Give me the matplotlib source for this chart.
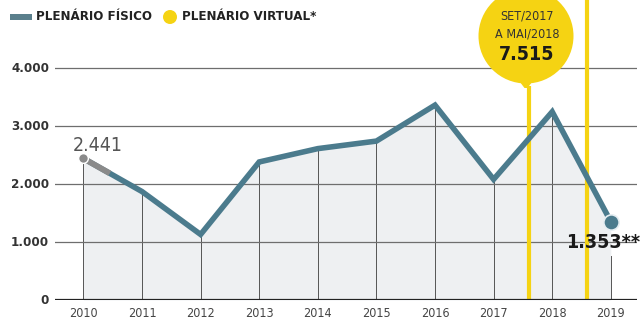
import matplotlib
matplotlib.use("Agg")
import matplotlib.pyplot as plt
from matplotlib.patches import Circle, Rectangle, Polygon
from matplotlib import font_manager as fm

years = [2010, 2011, 2012, 2013, 2014, 2015, 2016, 2017, 2018, 2019]
fisico = [2441, 1870, 1130, 2380, 2610, 2740, 3360, 2080, 3245, 1353]
yticks = [0, 1000, 2000, 3000, 4000]
ytick_labels = ["0", "1.000", "2.000", "3.000", "4.000"]
virtual_start = 2017.6   # SET/2017
virtual_end = 2018.6     # MAI/2018
virtual_total_label = "7.515"
first_label = "2.441"
last_label = "1.353**"

names = sorted({f.name for f in fm.fontManager.ttflist})
print(names)
cond = [f.fname for f in fm.fontManager.ttflist if "Condensed" in f.fname or "Narrow" in f.fname]
print(cond)

FAM = ["DejaVu Sans"]
ST = "condensed"

W, H = 641, 320
fig = plt.figure(figsize=(W / 100, H / 100), dpi=100)
ax = fig.add_axes([55 / W, 20 / H, (637 - 55) / W, 300 / H])
px_per_year = 58.6
x0 = 2010 - (83.4 - 55) / px_per_year
x1 = 2010 + (637 - 83.4) / px_per_year
ax.set_xlim(x0, x1)
ymax = 300 / 0.058
ax.set_ylim(0, ymax)
ax.axis("off")

TEAL = "#4b7b8d"
YELLOW = "#f5d313"
GRID = "#6e6e6e"

ax.fill_between(years, fisico, 0, color="#eef0f2", zorder=1, lw=0)

for i, (yr, v) in enumerate(zip(years, fisico)):
    top = v if i < len(years) - 1 else 760
    ax.plot([yr, yr], [0, top], color="#555555", lw=0.7, zorder=2)

for t in yticks[1:]:
    ax.plot([x0, x1], [t, t], color=GRID, lw=0.9, zorder=3)
ax.plot([x0, x1], [0, 0], color="#222222", lw=1.6, zorder=6)

for t, lab in zip(yticks, ytick_labels):
    fig.text(49 / W, 1 - (300 - t * 0.058) / H, lab, ha="right", va="center",
             fontsize=9.5, fontweight="bold", color="#333333",
             family=FAM, fontstretch=ST)
for yr in years:
    ax.text(yr, -230, str(yr), ha="center", va="center", fontsize=9,
            color="#444444", family=FAM, fontstretch=ST, clip_on=False)

ax.plot([virtual_start, virtual_start], [0, (300 - 86) / 0.058], color=YELLOW,
        lw=3, zorder=4, solid_capstyle="butt")
ax.plot([virtual_end, virtual_end], [0, ymax], color=YELLOW, lw=3, zorder=4,
        clip_on=False, solid_capstyle="butt")

ax.plot(years, fisico, color=TEAL, lw=4, zorder=5, solid_capstyle="round",
        solid_joinstyle="miter")
xs = years[0] + 0.45
ys = fisico[0] + (fisico[1] - fisico[0]) * 0.45
ax.plot([years[0], xs], [fisico[0], ys], color="#8a8a8a", lw=4.2, zorder=5.5,
        solid_capstyle="butt")
ax.plot([years[0]], [fisico[0]], "o", color="#8a8a8a", ms=7, zorder=6,
        markeredgecolor="white", markeredgewidth=1)
ax.plot([years[-1]], [fisico[-1]], "o", color=TEAL, ms=11, zorder=6,
        markeredgecolor="#e6eef2", markeredgewidth=1.2)

ax.text(years[0] + 0.25, 2670, first_label, ha="center", va="center",
        fontsize=14, color="#555555", zorder=7, family=FAM, fontstretch=ST)
ax.text(2018.87, 1000, last_label, ha="center", va="center",
        fontsize=14, fontweight="bold", color="#1a1a1a", zorder=7,
        family=FAM, fontstretch=ST)

fa = fig.add_axes([0, 0, 1, 1], zorder=10)
fa.set_xlim(0, W)
fa.set_ylim(H, 0)
fa.axis("off")
fa.patch.set_alpha(0)
cx, cy, r = 526, 36, 47.5
fa.add_patch(Circle((cx, cy), r, color=YELLOW, lw=0))
fa.add_patch(Polygon([[cx - 8, cy + r - 4], [cx + 8, cy + r - 4], [cx + 1.5, 88],
                      [cx - 1.5, 88]], closed=True, color=YELLOW, lw=0))
fa.text(cx + 1, 16, "SET/2017", ha="center", va="center", fontsize=9,
        color="#333333", family=FAM, fontstretch=ST)
fa.text(cx + 1, 34, "A MAI/2018", ha="center", va="center", fontsize=9,
        color="#333333", family=FAM, fontstretch=ST)
fa.text(cx + 1, 55, virtual_total_label, ha="center", va="center", fontsize=14,
        fontweight="bold", color="#1a1a1a", family=FAM, fontstretch=ST)

fa.add_patch(Rectangle((10, 14), 22, 6, color="#5a7f8c", lw=0))
fa.text(36, 17, "PLENÁRIO FÍSICO", ha="left", va="center", fontsize=9.5,
        fontweight="bold", color="#222222", family=FAM, fontstretch=ST)
fa.add_patch(Circle((170, 17), 7, color=YELLOW, lw=0))
fa.text(182, 17, "PLENÁRIO VIRTUAL*", ha="left", va="center", fontsize=9.5,
        fontweight="bold", color="#222222", family=FAM, fontstretch=ST)

fig.savefig("out.png", dpi=100, facecolor="white")
